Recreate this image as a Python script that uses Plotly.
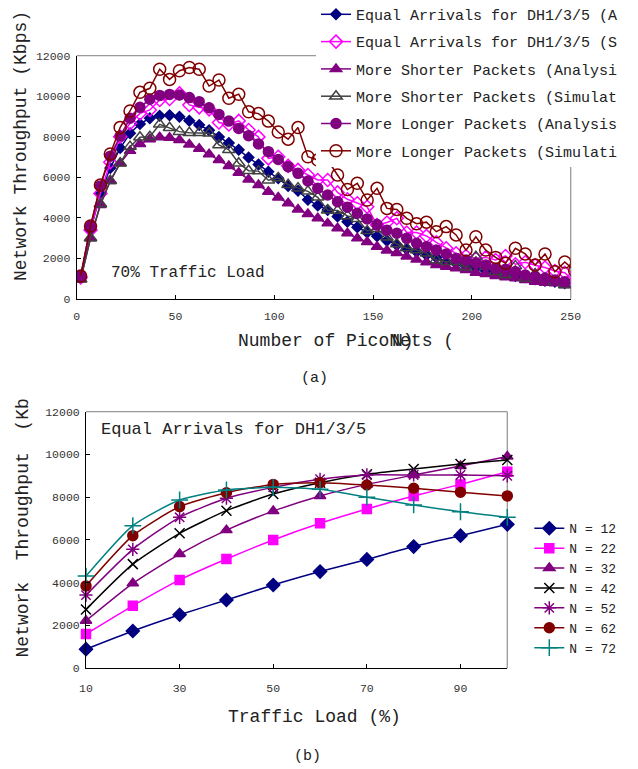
import plotly.graph_objects as go

W, H = 638, 769

# ---------------- Top chart (a) data ----------------
pico_n = [2, 7, 12, 17, 22, 27, 32, 37, 42, 47, 52, 57, 62, 67, 72, 77, 82, 87, 92, 97,
          102, 107, 112, 117, 122, 127, 132, 137, 142, 147, 152, 157, 162, 167, 172, 177,
          182, 187, 192, 197, 202, 207, 212, 217, 222, 227, 232, 237, 242, 247, 252]

eq_analysis = [1050, 3390, 5180, 6450, 7440, 8170, 8630, 8910, 9040, 9060,
               8990, 8790, 8580, 8320, 7990, 7690, 7350, 6970, 6630, 6270,
               5950, 5570, 5330, 4890, 4600, 4380, 4060, 3800, 3530, 3270,
               3080, 2860, 2650, 2460, 2320, 2160, 2040, 1830, 1750, 1610,
               1500, 1380, 1280, 1220, 1120, 1060, 960, 890, 840, 760]
eq_simulation = [1050, 3390, 5200, 6740, 8000, 8660, 9150, 9320, 9810, 9860,
                 10140, 9570, 9450, 9350, 8700, 8600, 8780, 8330, 7990, 6930,
                 7010, 6560, 6360, 6110, 5860, 5860, 5250, 4910, 4710, 4540,
                 3640, 3760, 3970, 3270, 3270, 3100, 2780, 2490, 2240, 2110,
                 1990, 2040, 1910, 2110, 1700, 1800, 1650, 1540, 1370, 1280, 840]
short_analysis = [960, 2980, 4630, 5810, 6690, 7300, 7640, 7870, 7970, 7950,
                  7840, 7620, 7410, 7130, 6850, 6550, 6220, 5890, 5610, 5280,
                  5000, 4710, 4410, 4180, 3970, 3720, 3480, 3230, 2980, 2800,
                  2570, 2380, 2260, 2080, 1930, 1800, 1660, 1580, 1500, 1420,
                  1280, 1220, 1120, 1060, 1010, 920, 840, 790, 760, 680]
short_simulation = [960, 3000, 4680, 5830, 6690, 7510, 7970, 8000, 8610, 8440,
                    8250, 8190, 8190, 8170, 7590, 7350, 6690, 6320, 6300, 5850,
                    5960, 5630, 5460, 5300, 5010, 4370, 4350, 4090, 3950, 3350,
                    3450, 3030, 2700, 2500, 2400, 2240, 1910, 1830, 1830, 1550,
                    2070, 1580, 1330, 1170, 1620, 1010, 1220, 1010, 840, 680]
long_analysis = [1120, 3580, 5570, 7040, 8030, 8910, 9450, 9850, 10040, 10090,
                 10060, 9930, 9730, 9430, 9100, 8770, 8410, 8050, 7640, 7260,
                 6880, 6520, 6190, 5810, 5450, 5120, 4790, 4520, 4220, 3940,
                 3660, 3380, 3230, 2980, 2740, 2570, 2400, 2210, 1990, 1910,
                 1750, 1660, 1500, 1450, 1330, 1170, 1090, 1010, 920, 840]
long_simulation = [1120, 3590, 5610, 7150, 8460, 9270, 10190, 10390, 11330, 10830,
                   11260, 11420, 11330, 10500, 10800, 9900, 10100, 9230, 9140, 8770,
                   8230, 7880, 8450, 7010, 6850, 6850, 6110, 5390, 5700, 4870,
                   5450, 4460, 4410, 3970, 3700, 3780, 3310, 3560, 3150, 2400,
                   3060, 2400, 2040, 1750, 2490, 2210, 1660, 2210, 1330, 1810, 1380]

# legend labels as visible in the reference (cut at the original image edge)
top_names = ["Equal Arrivals for DH1/3/5 (A",
             "Equal Arrivals for DH1/3/5 (S",
             "More Shorter Packets (Analysi",
             "More Shorter Packets (Simulat",
             "More Longer Packets (Analysis",
             "More Longer Packets (Simulati"]
top_x_ticks = [0, 50, 100, 150, 200, 250]
y_ticks = [0, 2000, 4000, 6000, 8000, 10000, 12000]

# ---------------- Bottom chart (b) data ----------------
traffic_load = [10, 20, 30, 40, 50, 60, 70, 80, 90, 100]
n12 = [890, 1740, 2500, 3190, 3890, 4520, 5090, 5690, 6200, 6730]
n22 = [1600, 2920, 4130, 5110, 6000, 6780, 7450, 8060, 8600, 9190]
n32 = [2220, 3970, 5340, 6460, 7350, 8060, 8600, 9040, 9460, 9900]
n42 = [2750, 4870, 6310, 7370, 8150, 8680, 9070, 9320, 9550, 9740]
n52 = [3420, 5560, 7060, 7950, 8460, 8840, 9040, 9040, 9040, 9000]
n62 = [3850, 6200, 7560, 8210, 8600, 8680, 8570, 8420, 8230, 8060]
n72 = [4310, 6670, 7870, 8340, 8460, 8370, 8000, 7640, 7320, 7060]
bottom_names = ["N = 12", "N = 22", "N = 32", "N = 42", "N = 52", "N = 62", "N = 72"]
bottom_x_ticks = [10, 30, 50, 70, 90]

MONO = "Liberation Mono"


def px(x):
    return x / W


def py(y):
    return 1 - y / H


fig = go.Figure()

top_styles = [
    dict(color="#000080", symbol="diamond", size=8),
    dict(color="#FF00FF", symbol="diamond-open", size=10),
    dict(color="#800080", symbol="triangle-up", size=10),
    dict(color="#404040", symbol="triangle-up-open", size=11),
    dict(color="#800080", symbol="circle", size=10),
    dict(color="#800000", symbol="circle-open", size=12),
]
top_series = [eq_analysis, eq_simulation, short_analysis, short_simulation,
              long_analysis, long_simulation]

for i, (name, ys, st) in enumerate(zip(top_names, top_series, top_styles)):
    xs = pico_n[:len(ys)]
    fig.add_trace(go.Scatter(
        x=xs, y=ys, name=name, mode="lines+markers",
        line=dict(color=st["color"], width=1.5),
        marker=dict(symbol=st["symbol"], size=st["size"], color=st["color"],
                    line=dict(color=st["color"], width=1.5)),
        xaxis="x", yaxis="y", legend="legend", legendgroup="a%d" % i,
    ))

bottom_styles = [
    dict(color="#000080", symbol="diamond", size=10),
    dict(color="#FF00FF", symbol="square", size=9),
    dict(color="#800080", symbol="triangle-up", size=10),
    dict(color="#000000", symbol="x-thin-open", size=10),
    dict(color="#800080", symbol="asterisk-open", size=11),
    dict(color="#800000", symbol="circle", size=10),
    dict(color="#008080", symbol="cross-thin-open", size=12),
]
bottom_series = [n12, n22, n32, n42, n52, n62, n72]
for i, (name, ys, st) in enumerate(zip(bottom_names, bottom_series, bottom_styles)):
    fig.add_trace(go.Scatter(
        x=traffic_load, y=ys, name=name, mode="lines+markers",
        line=dict(color=st["color"], width=1.5, shape="spline", smoothing=0.6),
        marker=dict(symbol=st["symbol"], size=st["size"], color=st["color"],
                    line=dict(color=st["color"], width=1.5)),
        xaxis="x2", yaxis="y2", legend="legend2", cliponaxis=False,
    ))

tickfont = dict(family=MONO, size=11.5, color="#333333")
common_axis = dict(showgrid=False, zeroline=False, showline=True, linecolor="black",
                   linewidth=1, ticks="inside", ticklen=4, tickcolor="black",
                   tickfont=tickfont, tickformat="d")

fig.update_layout(
    width=W, height=H,
    margin=dict(l=0, r=0, t=0, b=0, autoexpand=False),
    paper_bgcolor="white", plot_bgcolor="white",
    font=dict(family=MONO, color="#222222"),
    xaxis=dict(domain=[px(76.7), px(570.7)], range=[0, 250], tickvals=top_x_ticks,
               anchor="y", ticklabelstandoff=6, **common_axis),
    yaxis=dict(domain=[py(298.7), py(55.7)], range=[0, 12000], tickvals=y_ticks,
               anchor="x", ticklabelstandoff=3, **common_axis),
    xaxis2=dict(domain=[px(86), px(507.3)], range=[10, 100], tickvals=bottom_x_ticks,
                anchor="y2", ticklabelstandoff=9, **common_axis),
    yaxis2=dict(domain=[py(668.2), py(411.7)], range=[0, 12000], tickvals=y_ticks,
                anchor="x2", ticklabelstandoff=3, **common_axis),
    legend=dict(x=px(316), y=py(-1.95), xanchor="left", yanchor="top",
                bgcolor="white", borderwidth=0, tracegroupgap=4.8,
                font=dict(family=MONO, size=15, color="#222222")),
    legend2=dict(x=px(529.3), y=py(513.3), xanchor="left", yanchor="top",
                 bgcolor="white", borderwidth=0,
                 font=dict(family=MONO, size=13, color="#222222")),
    showlegend=True,
)

# gray top/right frame lines
for xr, yr in (("x", "y"), ("x2", "y2")):
    fig.add_shape(type="line", xref=xr + " domain", yref=yr + " domain",
                  x0=0, x1=1, y0=1, y1=1, line=dict(color="#999999", width=1.3), layer="below")
    fig.add_shape(type="line", xref=xr + " domain", yref=yr + " domain",
                  x0=1, x1=1, y0=0, y1=1, line=dict(color="#999999", width=1.3), layer="below")

ann = [
    dict(text="Network Throughput (Kbps)", x=px(20.5), y=py(146.5), textangle=-90,
         xanchor="center", yanchor="middle", font=dict(size=18)),
    dict(text="Number of PicoNets (", x=px(235.5), y=py(340.7),
         xanchor="left", yanchor="middle", font=dict(size=18)),
    dict(text="N)", x=px(389.5), y=py(340.7),
         xanchor="left", yanchor="middle", font=dict(size=18)),
    dict(text="70% Traffic Load", x=px(109), y=py(273.3),
         xanchor="left", yanchor="middle", font=dict(size=16)),
    dict(text="(a)", x=px(314), y=py(378), xanchor="center", yanchor="middle",
         font=dict(size=15)),
    dict(text="Network  Throughput  (Kb", x=px(22), y=py(660), textangle=-90,
         xanchor="center", yanchor="bottom", font=dict(size=18)),
    dict(text="Equal Arrivals for DH1/3/5", x=px(98.5), y=py(429.3),
         xanchor="left", yanchor="middle", font=dict(size=17)),
    dict(text="Traffic Load (%)", x=px(314), y=py(716.5), xanchor="center",
         yanchor="middle", font=dict(size=18)),
    dict(text="(b)", x=px(307), y=py(756), xanchor="center", yanchor="middle",
         font=dict(size=15)),
]
for a in ann:
    a.setdefault("xref", "paper")
    a.setdefault("yref", "paper")
    a["showarrow"] = False
    a["font"] = dict(family=MONO, color="#222222", **a["font"])
    fig.add_annotation(**a)

fig.write_html("out.html")
